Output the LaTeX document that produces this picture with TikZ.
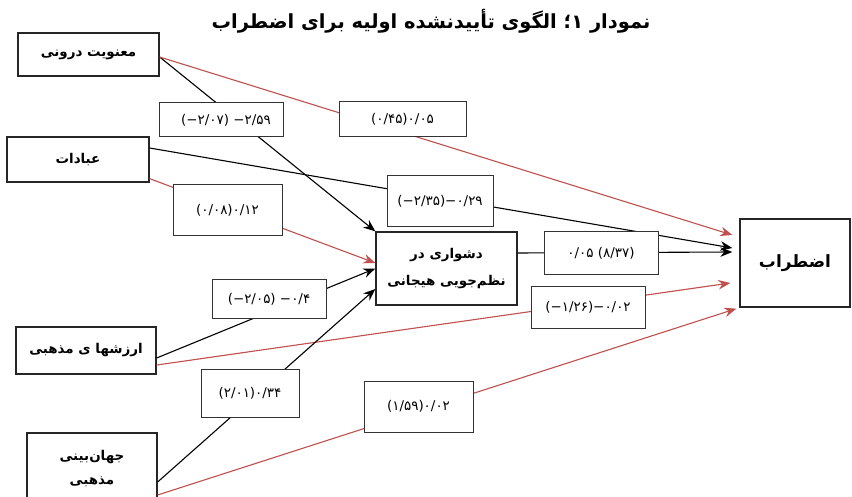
\documentclass[tikz,border=0pt]{standalone}
\usepackage{fontspec}
\usetikzlibrary{arrows.meta,calc}
\newfontfamily\fa[Script=Arabic]{DejaVu Sans}
\newfontfamily\fanum{DejaVu Sans}
\TeXXeTstate=1
\definecolor{lred}{RGB}{192,80,77}
\begin{document}
\begin{tikzpicture}[x=1bp,y=-1bp,
 box/.style={draw=black!85,line width=1.3bp,fill=white,inner sep=0pt,align=center,font=\fa\bfseries\fontsize{13.5}{28}\selectfont},
 lab/.style={draw=black!80,line width=1bp,fill=white,inner sep=0pt,font=\fanum\fontsize{13.5}{15}\selectfont},
 conn/.style={line width=1.1bp,-{Stealth[length=12bp,width=9.5bp]}},
 blk/.style={conn,draw=black},
 rd/.style={conn,draw=lred}
]
\useasboundingbox[fill=white] (0,0) rectangle (852,497);
% title
\node (T) at (431,21) {\fa\bfseries\fontsize{19.5}{22}\selectfont\beginR نمودار ۱؛ الگوی تأییدنشده اولیه برای اضطراب\endR};
% main boxes
\node[box,minimum width=141bp,minimum height=43bp] (A) at (88.5,54.5) {\beginR معنویت درونی\endR};
\node[box,minimum width=142bp,minimum height=45bp] (B) at (78,159.5) {\beginR عبادات\endR};
\node[box,minimum width=140bp,minimum height=47bp] (C) at (86,350.5) {\beginR ارزشها ی مذهبی\endR};
\node[box,minimum width=130bp,minimum height=72bp,font=\fa\bfseries\fontsize{13.5}{24}\selectfont] (D) at (92,469) {\beginR جهان‌بینی\endR\\\beginR مذهبی\endR};
\node[box,minimum width=141bp,minimum height=73bp] (M) at (446.5,268.5) {\beginR دشواری در\endR\\\beginR نظم‌جویی هیجانی\endR};
\node[box,minimum width=110bp,minimum height=88bp,font=\fa\bfseries\fontsize{17}{20}\selectfont] (Y) at (795,263) {\beginR اضطراب\endR};
% connectors
\draw[blk] ($(A.east)+(0,2.5)$) -- (M.north west);
\draw[rd] ($(A.east)+(0,2.5)$) -- ($(Y.west)+(-7,-28)$);
\draw[blk] ($(B.east)+(0,-11.5)$) -- ($(Y.west)+(-7,-15)$);
\draw[rd] ($(B.south east)+(0,-4)$) -- ($(M.west)+(0,-5.5)$);
\draw[blk] ($(C.east)+(0,7.5)$) -- (M.west);
\draw[rd] ($(C.east)+(0,14.5)$) -- ($(Y.west)+(-9,20)$);
\draw[blk] ($(D.east)+(0,13)$) -- ($(M.west)+(0,20.5)$);
\draw[rd] ($(D.east)+(0,26)$) -- ($(Y.south west)+(-3,1)$);
\draw[blk] ($(M.east)+(0,-15.5)$) -- ($(Y.west)+(-7,-11)$);
% coefficient labels
\node[lab,minimum width=124bp,minimum height=34bp] (L1) at (221,120) {\hspace{10bp}\beginR −۲/۵۹ (−۲/۰۷)\endR};
\node[lab,minimum width=127bp,minimum height=35bp] (L2) at (402.5,119.5) {\beginR(۰/۴۵)۰/۰۵\endR};
\node[lab,minimum width=106bp,minimum height=51bp] (L3) at (440,201.5) {\beginR(−۲/۳۵)−۰/۲۹\endR};
\node[lab,minimum width=109bp,minimum height=51bp] (L4) at (227.5,210.5) {\beginR(۰/۰۸)۰/۱۲\endR};
\node[lab,minimum width=114bp,minimum height=43bp] (L5) at (601,253.5) {\beginR(۸/۳۷) ۰/۰۵\endR};
\node[lab,minimum width=114bp,minimum height=41bp] (L6) at (588,307.5) {\beginR(−۱/۲۶)−۰/۰۲\endR};
\node[lab,minimum width=114bp,minimum height=38bp] (L7) at (269,299) {\beginR −۰/۴ (−۲/۰۵)\endR};
\node[lab,minimum width=98bp,minimum height=48bp] (L8) at (250,393) {\beginR(۲/۰۱)۰/۳۴\endR};
\node[lab,minimum width=109bp,minimum height=51bp] (L9) at (418.5,406.5) {\beginR(۱/۵۹)۰/۰۲\endR};
\end{tikzpicture}
\end{document}
